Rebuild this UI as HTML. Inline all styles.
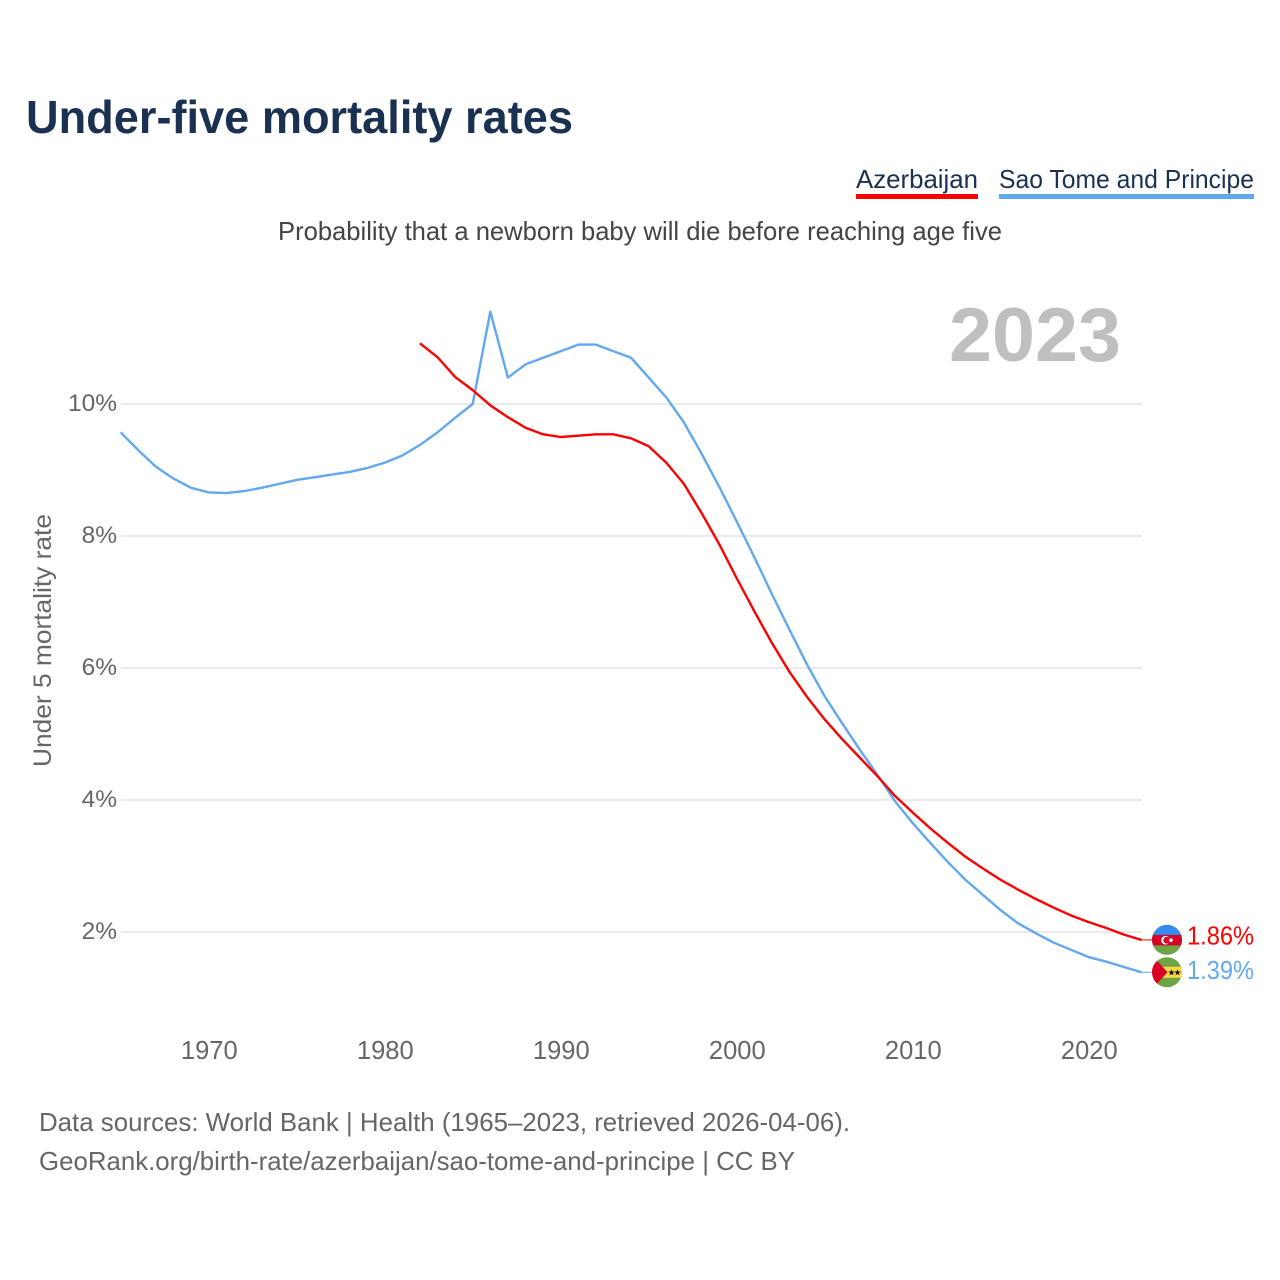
<!DOCTYPE html>
<html lang="en">
<head>
<meta charset="utf-8">
<title>Under-five mortality rates</title>
<style>
html,body{margin:0;padding:0;background:#fff;}
svg{display:block;}
text{font-family:"Liberation Sans",sans-serif;}
</style>
</head>
<body>
<svg id="chart" xmlns="http://www.w3.org/2000/svg" width="1280" height="1280" viewBox="0 0 1280 1280">
  <defs>
    <clipPath id="flag-clip"><circle cx="0" cy="0" r="15"></circle></clipPath>
  </defs>
  <rect x="0" y="0" width="1280" height="1280" fill="#ffffff"></rect>
  <text x="26" y="133" font-size="46" font-weight="700" fill="#1a3152" textLength="547" lengthAdjust="spacingAndGlyphs">Under-five mortality rates</text>

  <g>
    <g>
      <text x="856" y="188" font-size="26" fill="#1a3152" textLength="122" lengthAdjust="spacingAndGlyphs">Azerbaijan</text>
      <rect x="856" y="194" width="122" height="5" fill="#ff0000"></rect>
    </g>
    <g>
      <text x="999" y="188" font-size="26" fill="#1a3152" textLength="255" lengthAdjust="spacingAndGlyphs">Sao Tome and Principe</text>
      <rect x="999" y="194" width="255" height="5" fill="#62a8ee"></rect>
    </g>
  </g>

  <text x="278" y="240" font-size="26" fill="#444444" textLength="724" lengthAdjust="spacingAndGlyphs">Probability that a newborn baby will die before reaching age five</text>
  <text x="949" y="361" font-size="76" font-weight="700" fill="#bfbfbf" textLength="172" lengthAdjust="spacingAndGlyphs">2023</text>

  <g id="grid"></g>
  <g id="y-axis"></g>
  <g id="x-axis"></g>
  <text transform="translate(51,767) rotate(-90)" x="0" y="0" font-size="25" fill="#666666" textLength="253" lengthAdjust="spacingAndGlyphs">Under 5 mortality rate</text>

  <g id="series"></g>

  <g id="flag-az">
    <g clip-path="url(#flag-clip)">
      <rect x="-15" y="-15" width="30" height="30" fill="#6da544"></rect>
      <rect x="-15" y="-15" width="30" height="10" fill="#338af3"></rect>
      <rect x="-15" y="-5" width="30" height="10.5" fill="#d80027"></rect>
      <circle cx="-1.5" cy="0.3" r="4.3" fill="#ffffff"></circle>
      <circle cx="-0.2" cy="0.3" r="3.4" fill="#d80027"></circle>
      <circle cx="4" cy="0.3" r="1.8" fill="#ffffff"></circle>
    </g>
  </g>
  <g id="flag-st">
    <g clip-path="url(#flag-clip)">
      <rect x="-15" y="-15" width="30" height="30" fill="#6da544"></rect>
      <rect x="-15" y="-5.5" width="30" height="11" fill="#ffda44"></rect>
      <polygon points="-15,-17 0.5,0 -15,17" fill="#d80027"></polygon>
      <polygon points="4.5,-3 5.4,-0.7 7.8,-0.7 5.9,0.8 6.6,3.1 4.5,1.7 2.4,3.1 3.1,0.8 1.2,-0.7 3.6,-0.7" fill="#111111"></polygon>
      <polygon points="10.5,-3 11.4,-0.7 13.8,-0.7 11.9,0.8 12.6,3.1 10.5,1.7 8.4,3.1 9.1,0.8 7.2,-0.7 9.6,-0.7" fill="#111111"></polygon>
    </g>
  </g>

  <text id="value-az" x="1187" font-size="25.5" fill="#ff0000" textLength="67" lengthAdjust="spacingAndGlyphs"></text>
  <text id="value-st" x="1187" font-size="25.5" fill="#62a8ee" textLength="67" lengthAdjust="spacingAndGlyphs"></text>

  <g>
    <text x="39" y="1131" font-size="26" fill="#666666" textLength="811" lengthAdjust="spacingAndGlyphs">Data sources: World Bank | Health (1965–2023, retrieved 2026-04-06).</text>
    <text x="39" y="1170" font-size="26" fill="#666666" textLength="756" lengthAdjust="spacingAndGlyphs">GeoRank.org/birth-rate/azerbaijan/sao-tome-and-principe | CC BY</text>
  </g>
</svg>

<script>
const blueStartYear = 1965;
const redStartYear = 1982;
const saoTomeValues = [9.57,9.30,9.05,8.87,8.73,8.66,8.65,8.68,8.73,8.79,8.85,8.89,8.93,8.97,9.03,9.11,9.22,9.38,9.57,9.79,10.0,11.4,10.4,10.6,10.7,10.8,10.9,10.9,10.8,10.7,10.4,10.1,9.72,9.25,8.75,8.22,7.68,7.12,6.58,6.05,5.57,5.16,4.76,4.38,3.98,3.65,3.35,3.06,2.79,2.56,2.33,2.13,1.98,1.84,1.73,1.62,1.55,1.47,1.39];
const azerbaijanValues = [10.92,10.71,10.41,10.21,9.98,9.80,9.64,9.54,9.50,9.52,9.54,9.54,9.48,9.36,9.11,8.79,8.35,7.88,7.36,6.86,6.38,5.94,5.56,5.22,4.92,4.64,4.36,4.06,3.81,3.57,3.35,3.14,2.96,2.79,2.64,2.50,2.37,2.25,2.15,2.06,1.96,1.88];
const yTickValues = [2,4,6,8,10];
const yTickLabels = ["2%","4%","6%","8%","10%"];
const xTickValues = [1970,1980,1990,2000,2010,2020];
const xTickLabels = ["1970","1980","1990","2000","2010","2020"];
const endValueLabels = ["1.86%","1.39%"];

const NS = "http://www.w3.org/2000/svg";
function xScale(year){ return 208.7 + (year - 1970) * 17.6; }
function yScale(v){ return 932 - (v - 2) * 66; }
function make(tag, attrs){
  const el = document.createElementNS(NS, tag);
  for (const k in attrs) el.setAttribute(k, attrs[k]);
  return el;
}

const grid = document.getElementById("grid");
const yAxis = document.getElementById("y-axis");
yTickValues.forEach(function(v, i){
  const line = make("line", {x1: 121, x2: 1142, y1: yScale(v), y2: yScale(v), stroke: "#ebebeb", "stroke-width": 2});
  
  
  grid.appendChild(line);
  const label = make("text", {x: 117, y: yScale(v) + 7, "text-anchor": "end", "font-size": 24.5, fill: "#666666"});
  
  
  label.textContent = yTickLabels[i];
  yAxis.appendChild(label);
});

const xAxis = document.getElementById("x-axis");
xTickValues.forEach(function(year, i){
  const label = make("text", {x: xScale(year) + 0.6, y: 1059, "text-anchor": "middle", "font-size": 25.5, fill: "#666666"});
  
  
  label.textContent = xTickLabels[i];
  xAxis.appendChild(label);
});

function linePoints(values, startYear){
  return values.map(function(v, i){
    return xScale(startYear + i).toFixed(2) + "," + yScale(v).toFixed(2);
  }).join(" ");
}

const series = document.getElementById("series");
const flagCx = 1167;

const blueLast = saoTomeValues[saoTomeValues.length - 1];
const redLast = azerbaijanValues[azerbaijanValues.length - 1];
const blueEndX = xScale(blueStartYear + saoTomeValues.length - 1);
const redEndX = xScale(redStartYear + azerbaijanValues.length - 1);

const blueLine = make("polyline", {points: linePoints(saoTomeValues, blueStartYear), fill: "none", stroke: "#62a8ee", "stroke-width": 2.4, "stroke-linejoin": "round"});


series.appendChild(blueLine);

const redLine = make("polyline", {points: linePoints(azerbaijanValues, redStartYear), fill: "none", stroke: "#ff0000", "stroke-width": 2.4, "stroke-linejoin": "round"});


series.appendChild(redLine);

const blueConnector = make("line", {x1: blueEndX, x2: flagCx - 15, y1: yScale(blueLast), y2: yScale(blueLast), stroke: "#62a8ee", "stroke-width": 1});


series.appendChild(blueConnector);

const redConnector = make("line", {x1: redEndX, x2: flagCx - 15, y1: yScale(redLast), y2: yScale(redLast), stroke: "#ff0000", "stroke-width": 1});


series.appendChild(redConnector);

document.getElementById("flag-az").setAttribute("transform", "translate(" + flagCx + "," + yScale(redLast) + ")");
document.getElementById("flag-st").setAttribute("transform", "translate(" + flagCx + "," + yScale(blueLast) + ")");

const valueAz = document.getElementById("value-az");
valueAz.setAttribute("y", yScale(redLast) + 4.5);
valueAz.textContent = endValueLabels[0];
const valueSt = document.getElementById("value-st");
valueSt.setAttribute("y", yScale(blueLast) + 6.5);
valueSt.textContent = endValueLabels[1];
</script>
</body>
</html>
